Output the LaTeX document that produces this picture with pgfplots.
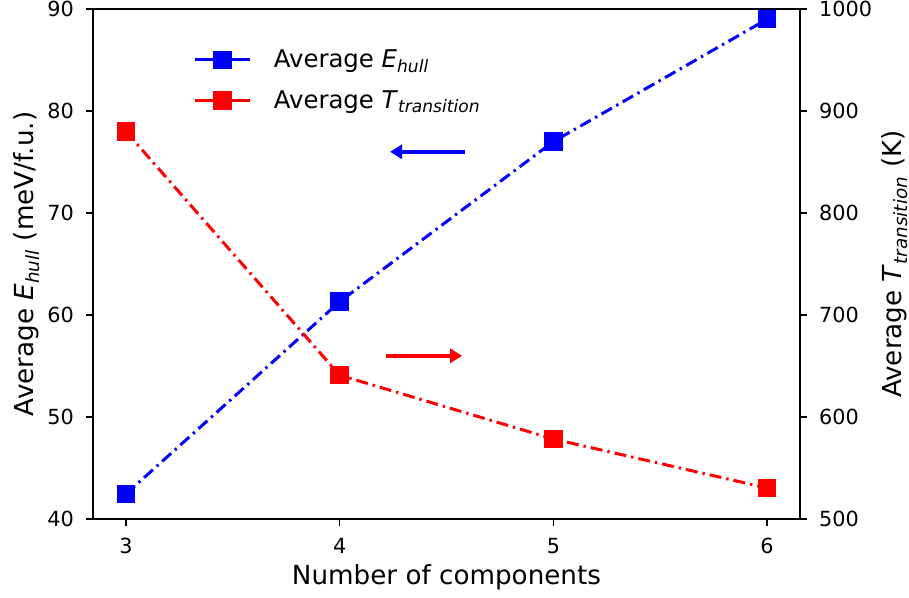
\documentclass[border=0pt]{standalone}
\usepackage{fontspec}
\setmainfont{DejaVu Sans}
\usepackage{pgfplots}
\pgfplotsset{compat=1.18}
\usetikzlibrary{arrows.meta}
\begin{document}
\begin{tikzpicture}
\pgfplotsset{
  every axis/.append style={
    width=353.5pt, height=255pt, scale only axis,
    xmin=2.846, xmax=6.154,
    xtick={3,4,5,6},
    tick align=outside, major tick length=3.5pt,
    tick style={black, line width=0.7pt},
    axis line style={line width=0.75pt},
    /pgf/number format/assume math mode=true,
    /pgf/number format/1000 sep={},
    tick label style={font=\fontsize{10.4}{12}\selectfont},
    xticklabel shift=2.5pt, yticklabel shift=2.5pt,
    label style={font=\fontsize{13.1}{15}\selectfont},
  },
  mydash/.style={dash pattern=on 6pt off 2.5pt on 1.2pt off 2.5pt},
}
\begin{axis}[
  xtick pos=bottom, ytick pos=left,
  ymin=40, ymax=90, ytick={40,50,60,70,80,90},
  xlabel={Number of components},
  xlabel style={at={(axis description cs:0.5,-0.1137)}, anchor=center},
  ylabel={Average \textit{E}\textsubscript{\textit{hull}} (meV/f.u.)},
  ylabel style={at={(axis description cs:-0.0934,0.5)}, anchor=center, rotate=0},
  legend style={draw=none, fill=none, at={(0.1335,0.937)}, anchor=north west,
    font=\fontsize{12.2}{14}\selectfont, row sep=6pt,
    nodes={inner xsep=5pt}},
  legend cell align=left,
  legend image code/.code={\draw[mark repeat=2,mark phase=2,#1,solid] plot coordinates {(0pt,0pt) (13.75pt,0pt) (27.5pt,0pt)}; \path (33.5pt,0pt);},
]
\coordinate (fsw) at (rel axis cs:0,0);
\coordinate (fne) at (rel axis cs:1,1);
\addplot[blue, line width=1.5pt, mydash, mark=square*, mark size=3.9pt, mark options={solid}]
  coordinates {(3,42.45) (4,61.3) (5,77.0) (6,89.0)};
\addlegendentry{Average \textit{E}\textsubscript{\textit{hull}}}
\addlegendimage{red, line width=1.5pt, mark=square*, mark size=3.9pt}
\addlegendentry{Average \textit{T}\textsubscript{\textit{transition}}}
\draw[blue, line width=2pt, -{Triangle[length=6pt,width=7pt]}] (axis cs:4.587,76) -- (axis cs:4.236,76);
\draw[red, line width=2pt, -{Triangle[length=6pt,width=7pt]}] (axis cs:4.217,56) -- (axis cs:4.573,56);
\end{axis}
\begin{axis}[
  axis y line*=right, axis x line=none,
  ymin=500, ymax=1000, ytick={500,600,700,800,900,1000},
  ylabel={Average \textit{T}\textsubscript{\textit{transition}} (K)},
  ylabel style={at={(axis description cs:1.134,0.5)}, anchor=center},
]
\addplot[red, line width=1.5pt, mydash, mark=square*, mark size=3.9pt, mark options={solid}]
  coordinates {(3,880) (4,641) (5,578.4) (6,530.4)};
\end{axis}
\pgfresetboundingbox
\path ([shift={(-46.5pt,-39.5pt)}]fsw) rectangle ([shift={(54.5pt,4.5pt)}]fne);
\end{tikzpicture}
\end{document}
